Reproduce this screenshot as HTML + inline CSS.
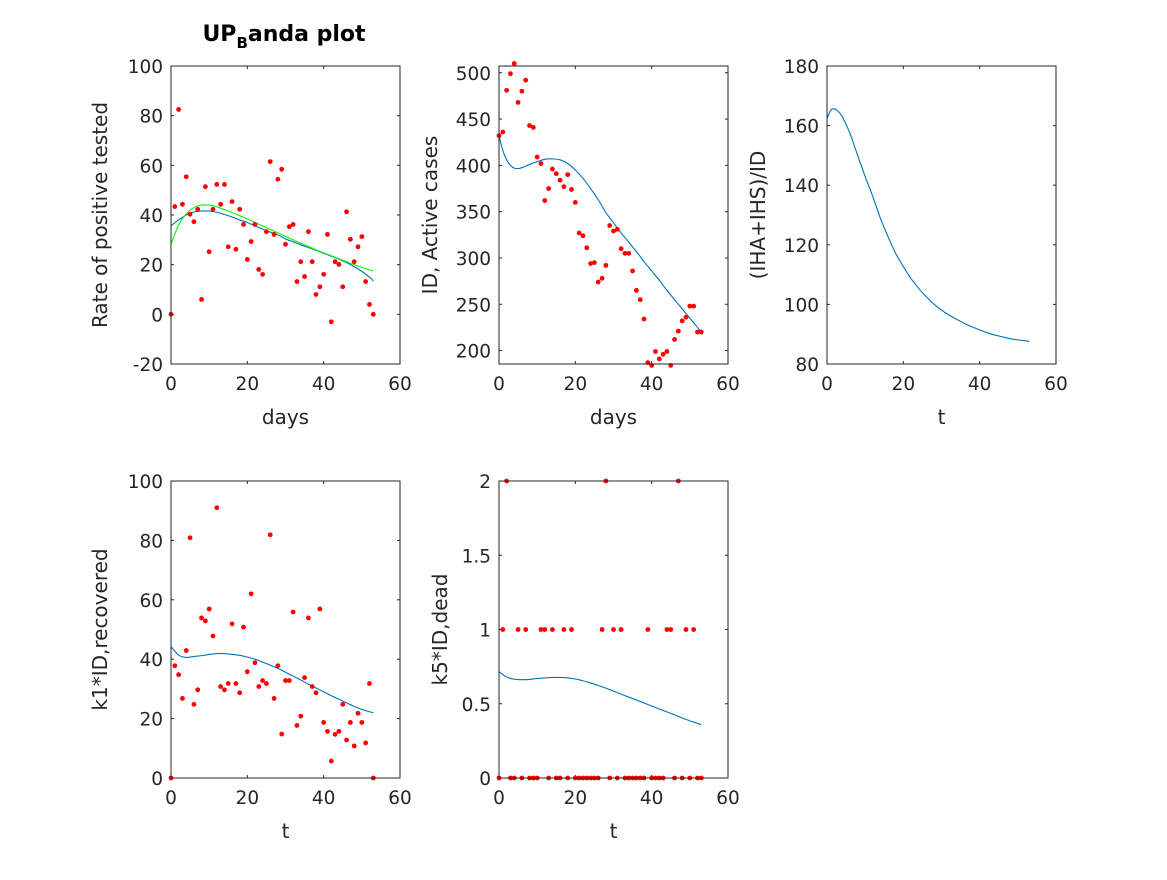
<!DOCTYPE html>
<html><head><meta charset="utf-8">
<style>
body{margin:0;background:#fff;}
svg text{font-family:"DejaVu Sans","Liberation Sans",sans-serif;fill:#262626;}
</style></head>
<body>
<svg id="fig" width="1167" height="875" xmlns="http://www.w3.org/2000/svg">
<rect width="1167" height="875" fill="#fff"/>
<text x="284" y="41" text-anchor="middle" font-size="22" font-weight="bold" style="fill:#000">UP<tspan font-size="15" dy="7">B</tspan><tspan dy="-7">anda plot</tspan></text>
</svg>
<script>
// ---- data ----
const days = Array.from({length:54},(_, i)=>i);
const rateObs = [0,43.4,82.5,44.3,55.4,40.3,37.3,42.3,6,51.4,25.2,42.3,52.3,44.3,52.3,27.2,45.4,26.2,42.3,36.2,22.1,29.3,36.2,18.1,16.1,33.3,61.5,32.2,54.4,58.4,28.2,35.3,36.2,13.2,21.2,15.2,33.3,21.2,8,11.1,16.1,32.2,-3,21.2,20.1,11.1,41.3,30.2,21.2,27.2,31.3,13.2,4,0];
const fitDays = [0,2,4,6,8,10,12,14,16,18,20,22,24,26,28,30,32,34,36,38,40,42,44,46,48,50,52,53];
const rateFitBlue = [35.7,38,40,41.2,41.6,41.6,41.1,40.2,39.2,38,37,35.6,34.3,33.1,32,30.4,29.2,28,26.9,25.8,24.6,23.4,22.2,20.8,19.2,17.3,15,13.4];
const rateFitGreen = [28.2,36,40.5,43,44,44,43.3,42.2,41,39.7,38.4,37,35.6,34.2,32.8,31.4,30,28.6,27.3,26,24.8,23.6,22.4,21.2,20,18.9,17.9,17.4];
const activeObs = [432,436,481,499,510,468,480,492,443,441,409,402,362,375,396,391,384,377,390,374,360,327,324,311,294,295,274,278,292,335,329,331,310,305,305,286,265,255,234,187,184,199,191,196,199,184,212,221,232,236,248,248,220,220];
const activeFitDays = [0,1,2,3,4,5,6,8,10,12,14,16,18,20,22,24,26,28,30,32,34,36,38,40,42,44,46,48,50,52,53];
const activeFit = [432,416,406,400,397,396.5,397.5,401,404,406.5,407,406,402,395,386,375,363,349,338,327,317,307,296,286,276,265,255,245,235,225,220];
const ratioFitDays = [0,1,2,3,4,6,8,10,12,14,16,18,20,22,24,26,28,30,32,34,36,38,40,42,44,46,48,50,53];
const ratioFit = [162.4,165.2,165.6,164.7,163,157.4,150.1,142.9,136.2,128.9,122.7,117.1,112.7,108.7,105.4,102.6,100.1,98.1,96.4,95,93.6,92.5,91.4,90.5,89.7,89.1,88.5,88.1,87.6];
const recObs = [0,37.8,34.8,26.8,42.9,80.9,24.8,29.7,53.9,52.9,56.9,47.8,91,30.8,29.7,31.8,51.9,31.8,28.7,50.8,35.8,62,38.8,30.8,32.8,31.8,81.9,26.8,37.8,14.8,32.8,32.8,55.9,17.7,20.8,33.8,53.9,30.8,28.7,56.9,18.7,15.7,5.7,14.7,15.7,24.8,12.8,18.7,10.8,21.8,18.7,11.8,31.8,0];
const recFit = [44.2,41.4,40.6,40.9,41.2,41.6,41.9,41.9,41.6,41.3,40.7,40,39,38,36.9,35.6,34.3,33,31.6,30.3,29,27.7,26.5,25.3,24.1,23.1,22.3,22];
const deadObs = [0,1,2,0,0,1,0,1,0,0,0,1,1,0,1,0,0,1,0,1,0,0,0,0,0,0,0,1,2,0,1,0,1,0,0,0,0,0,0,1,0,0,0,0,1,1,0,2,0,1,0,1,0,0];
const deadFit = [0.716,0.68,0.665,0.662,0.664,0.67,0.674,0.677,0.677,0.674,0.667,0.655,0.64,0.623,0.605,0.585,0.565,0.545,0.525,0.505,0.485,0.465,0.445,0.425,0.405,0.385,0.368,0.36];
const xTicks = [0,20,40,60];
const yTicks1 = [-20,0,20,40,60,80,100];
const yTicks2 = [200,250,300,350,400,450,500];
const yTicks3 = [80,100,120,140,160,180];
const yTicks4 = [0,20,40,60,80,100];
const yTicks5 = [0,0.5,1,1.5,2];
const yTickLabels5 = ["0","0.5","1","1.5","2"];

const NS="http://www.w3.org/2000/svg";
const svg=document.getElementById('fig');
function mk(tag,attrs,parent){const e=document.createElementNS(NS,tag);for(const k in attrs)e.setAttribute(k,attrs[k]);(parent||svg).appendChild(e);return e;}

function smoothPath(P){
  let d='M'+P[0][0].toFixed(2)+','+P[0][1].toFixed(2);
  for(let i=0;i<P.length-1;i++){
    const p0=P[Math.max(0,i-1)],p1=P[i],p2=P[i+1],p3=P[Math.min(P.length-1,i+2)];
    const c1=[p1[0]+(p2[0]-p0[0])/6,p1[1]+(p2[1]-p0[1])/6];
    const c2=[p2[0]-(p3[0]-p1[0])/6,p2[1]-(p3[1]-p1[1])/6];
    d+=` C${c1[0].toFixed(2)},${c1[1].toFixed(2)} ${c2[0].toFixed(2)},${c2[1].toFixed(2)} ${p2[0].toFixed(2)},${p2[1].toFixed(2)}`;
  }
  return d;
}

function axes(cfg){
  const g=mk('g',{});
  
  
  const L=cfg.x0,R=cfg.x1,T=cfg.y0,B=cfg.y1;
  const sx=v=>L+(v-cfg.xmin)/(cfg.xmax-cfg.xmin)*(R-L);
  const sy=v=>B-(v-cfg.ymin)/(cfg.ymax-cfg.ymin)*(B-T);
  mk('rect',{x:L,y:T,width:R-L,height:B-T,fill:'#fff',stroke:'none'},g);
  xTicks.forEach(t=>{
    const x=sx(t);
    mk('line',{x1:x,x2:x,y1:B,y2:B-3,stroke:'#262626','stroke-width':1},g);
    mk('line',{x1:x,x2:x,y1:T,y2:T+3,stroke:'#262626','stroke-width':1},g);
    const tx=mk('text',{x:x,y:B+26,'text-anchor':'middle','font-size':18.5},g);
    tx.textContent=t;
    
    
  });
  cfg.yticks.forEach((t,i)=>{
    const y=sy(t);
    mk('line',{x1:L,x2:L+3,y1:y,y2:y,stroke:'#262626','stroke-width':1},g);
    mk('line',{x1:R,x2:R-3,y1:y,y2:y,stroke:'#262626','stroke-width':1},g);
    const tx=mk('text',{x:L-8,y:y+7,'text-anchor':'end','font-size':18.5},g);
    tx.textContent=cfg.ylabels?cfg.ylabels[i]:t;
    
    
  });
  (cfg.lines||[]).forEach(ln=>{
    const P=ln.x.map((d,i)=>[sx(d),sy(ln.y[i])]);
    const p=mk('path',{d:smoothPath(P),fill:'none',stroke:ln.color,'stroke-width':1.1},g);
    
    
  });
  if(cfg.dots){
    cfg.dots.forEach((v,i)=>{
      const c=mk('circle',{cx:sx(days[i]),cy:sy(v),r:2.4,fill:'#ff0000'},g);
      
      
    });
  }
  mk('rect',{x:L,y:T,width:R-L,height:B-T,fill:'none',stroke:'#262626','stroke-width':1},g);
  const xl=mk('text',{x:(L+R)/2,y:B+60,'text-anchor':'middle','font-size':20},g);
  xl.textContent=cfg.xlabel;
  
  
  const yx=cfg.ylx, yy=(T+B)/2;
  const yl=mk('text',{x:yx,y:yy,'text-anchor':'middle','font-size':20,transform:`rotate(-90 ${yx} ${yy})`},g);
  yl.textContent=cfg.ylabel;
  
  
}

axes({name:'positive-rate-plot',x0:171,x1:400,y0:66,y1:364,xmin:0,xmax:60,ymin:-20,ymax:100,yticks:yTicks1,
  xlabel:'days',ylabel:'Rate of positive tested',ylx:107,dots:rateObs,
  lines:[{x:fitDays,y:rateFitBlue,color:'#0072BD',name:'rate-fit-blue'},{x:fitDays,y:rateFitGreen,color:'#00FF00',name:'rate-fit-green'}]});
axes({name:'active-cases-plot',x0:499,x1:728,y0:66,y1:364,xmin:0,xmax:60,ymin:185.5,ymax:507.3,yticks:yTicks2,
  xlabel:'days',ylabel:'ID, Active cases',ylx:437,dots:activeObs,
  lines:[{x:activeFitDays,y:activeFit,color:'#0072BD',name:'active-fit'}]});
axes({name:'ratio-plot',x0:827,x1:1056,y0:66,y1:364,xmin:0,xmax:60,ymin:80,ymax:180,yticks:yTicks3,
  xlabel:'t',ylabel:'(IHA+IHS)/ID',ylx:765,
  lines:[{x:ratioFitDays,y:ratioFit,color:'#0072BD',name:'ratio-fit'}]});
axes({name:'recovered-plot',x0:171,x1:400,y0:481,y1:778,xmin:0,xmax:60,ymin:0,ymax:100,yticks:yTicks4,
  xlabel:'t',ylabel:'k1*ID,recovered',ylx:107,dots:recObs,
  lines:[{x:fitDays,y:recFit,color:'#0072BD',name:'recovered-fit'}]});
axes({name:'dead-plot',x0:499,x1:728,y0:481,y1:778,xmin:0,xmax:60,ymin:0,ymax:2,yticks:yTicks5,ylabels:yTickLabels5,
  xlabel:'t',ylabel:'k5*ID,dead',ylx:447,dots:deadObs,
  lines:[{x:fitDays,y:deadFit,color:'#0072BD',name:'dead-fit'}]});
</script>
</body></html>
